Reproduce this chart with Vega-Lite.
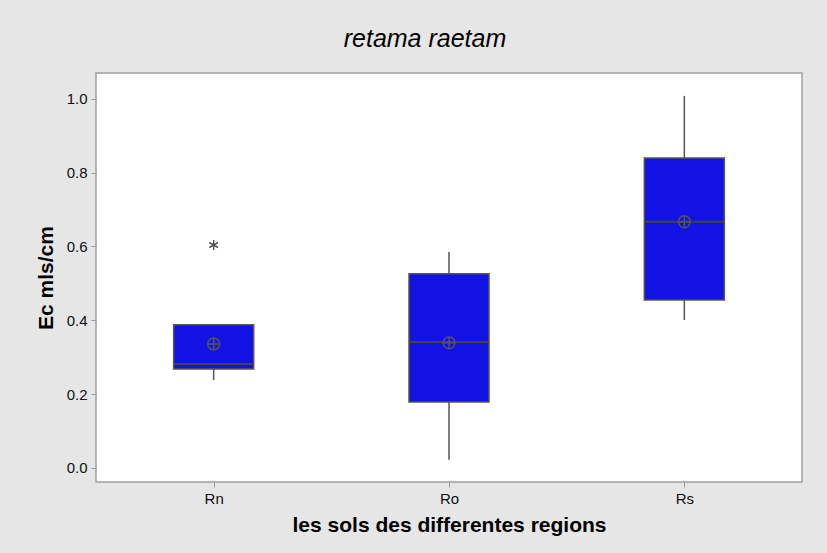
{
  "$schema": "https://vega.github.io/schema/vega-lite/v6.json",
  "width": 706,
  "height": 409,
  "autosize": {"type": "none"},
  "padding": {"left": 96, "top": 73, "right": 25, "bottom": 71},
  "background": "#e6e6e6",
  "title": {
    "text": "retama raetam",
    "font": "Liberation Sans",
    "fontSize": 25,
    "fontStyle": "italic",
    "fontWeight": "normal",
    "color": "#000000",
    "anchor": "middle",
    "dx": -24,
    "offset": 21
  },
  "datasets": {
    "boxes": [
      {"region": "Rn", "lower": 0.238, "q1": 0.268, "median": 0.282, "q3": 0.388, "upper": 0.388, "mean": 0.336},
      {"region": "Ro", "lower": 0.022, "q1": 0.179, "median": 0.341, "q3": 0.526, "upper": 0.585, "mean": 0.339},
      {"region": "Rs", "lower": 0.401, "q1": 0.455, "median": 0.667, "q3": 0.840, "upper": 1.008, "mean": 0.667}
    ],
    "outliers": [
      {"region": "Rn", "value": 0.604}
    ]
  },
  "data": {"name": "boxes"},
  "encoding": {
    "x": {
      "field": "region",
      "type": "nominal",
      "scale": {"type": "point", "padding": 0.5, "domain": ["Rn", "Ro", "Rs"]},
      "axis": {
        "title": "les sols des differentes regions",
        "labelAngle": 0,
        "domain": false,
        "grid": false,
        "ticks": true,
        "tickSize": 5,
        "tickColor": "#9a9a9a",
        "labelPadding": 4,
        "titlePadding": 8
      }
    }
  },
  "layer": [
    {
      "mark": {"type": "rule", "color": "#555555", "strokeWidth": 1.5},
      "encoding": {
        "y": {
          "field": "lower",
          "type": "quantitative",
          "scale": {"domain": [-0.038, 1.07], "nice": false, "zero": false},
          "axis": {
            "title": "Ec mls/cm",
            "values": [0, 0.2, 0.4, 0.6, 0.8, 1.0],
            "format": ".1f",
            "grid": false,
            "domain": false,
            "tickSize": 5,
            "tickColor": "#9a9a9a",
            "labelPadding": 4,
            "titlePadding": 10
          }
        },
        "y2": {"field": "upper"}
      }
    },
    {
      "mark": {"type": "bar", "width": 80, "fill": "#1212e4", "stroke": "#555555", "strokeWidth": 1.5},
      "encoding": {
        "y": {"field": "q1", "type": "quantitative"},
        "y2": {"field": "q3"}
      }
    },
    {
      "mark": {"type": "tick", "size": 80, "thickness": 2, "color": "#444444", "opacity": 1, "orient": "horizontal"},
      "encoding": {
        "y": {"field": "median", "type": "quantitative"}
      }
    },
    {
      "mark": {
        "type": "point",
        "shape": "M-1,0A1,1,0,1,0,1,0A1,1,0,1,0,-1,0M-1,0L1,0M0,-1L0,1",
        "filled": false,
        "size": 140,
        "stroke": "#555555",
        "strokeWidth": 1.5,
        "opacity": 1
      },
      "encoding": {
        "y": {"field": "mean", "type": "quantitative"}
      }
    },
    {
      "data": {"name": "outliers"},
      "mark": {
        "type": "point",
        "shape": "M0,-1L0,1M-0.87,-0.5L0.87,0.5M-0.87,0.5L0.87,-0.5",
        "filled": false,
        "size": 100,
        "stroke": "#555555",
        "strokeWidth": 1.5,
        "opacity": 1
      },
      "encoding": {
        "x": {"field": "region", "type": "nominal"},
        "y": {"field": "value", "type": "quantitative"}
      }
    }
  ],
  "config": {
    "font": "Liberation Sans",
    "view": {"fill": "#ffffff", "stroke": "#a0a0a0", "strokeWidth": 1.5},
    "axis": {
      "labelFont": "Liberation Sans",
      "labelFontSize": 15,
      "labelColor": "#111111",
      "titleFont": "Liberation Sans",
      "titleFontSize": 21,
      "titleFontWeight": "bold",
      "titleColor": "#000000"
    }
  }
}
